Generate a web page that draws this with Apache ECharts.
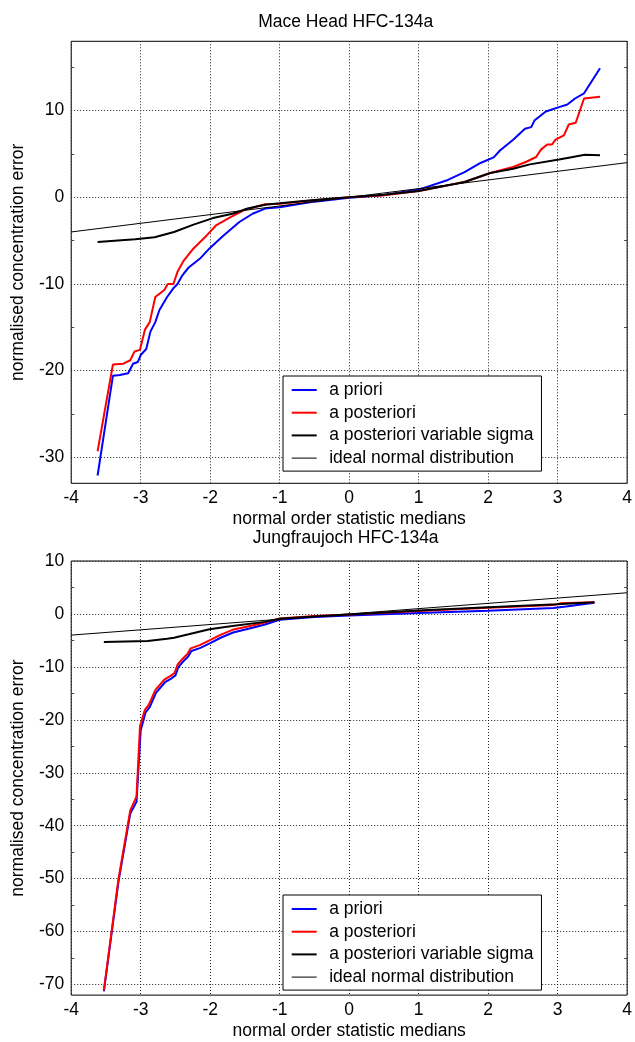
<!DOCTYPE html>
<html><head><meta charset="utf-8">
<script src="https://cdn.jsdelivr.net/npm/echarts@6/dist/echarts.min.js"></script>
<style>html,body{margin:0;padding:0;background:#fff}#c{width:635px;height:1042px}</style>
</head><body><div id="c"></div>
<script>
// ---------- data ----------
const titles = ['Mace Head HFC-134a', 'Jungfraujoch HFC-134a'];
const seriesNames = ['a priori', 'a posteriori', 'a posteriori variable sigma', 'ideal normal distribution'];
const xTicks = [-4, -3, -2, -1, 0, 1, 2, 3, 4];
const maceYTicks = [-30, -20, -10, 0, 10];
const maceYMinor = [-25, -15, -5, 5, 15];
const jfjYTicks = [-70, -60, -50, -40, -30, -20, -10, 0, 10];
const jfjYMinor = [-65, -55, -45, -35, -25, -15, -5, 5];

const maceApriori = [[-3.62,-32.1],[-3.40,-20.6],[-3.30,-20.5],[-3.18,-20.3],[-3.11,-19.2],[-3.04,-19.0],[-3.0,-18.2],[-2.92,-17.5],[-2.86,-15.5],[-2.79,-14.4],[-2.73,-13.0],[-2.62,-11.5],[-2.53,-10.5],[-2.47,-10.0],[-2.40,-9.0],[-2.31,-8.1],[-2.15,-7.1],[-2.01,-5.9],[-1.82,-4.5],[-1.58,-2.85],[-1.39,-1.9],[-1.21,-1.3],[-1.0,-1.15],[-0.5,-0.5],[0,-0.05],[0.48,0.23],[1.0,0.89],[1.42,2.0],[1.66,2.9],[1.89,3.96],[2.08,4.6],[2.17,5.4],[2.36,6.65],[2.53,7.9],[2.62,8.1],[2.67,8.9],[2.83,9.9],[3.02,10.4],[3.14,10.7],[3.25,11.4],[3.38,12.0],[3.61,14.9]];
const maceAposteriori = [[-3.62,-29.3],[-3.40,-19.3],[-3.25,-19.2],[-3.15,-18.8],[-3.09,-17.8],[-3.01,-17.6],[-2.94,-15.3],[-2.87,-14.4],[-2.79,-11.5],[-2.66,-10.7],[-2.61,-10.0],[-2.53,-10.0],[-2.47,-8.6],[-2.38,-7.3],[-2.24,-5.9],[-2.05,-4.4],[-1.91,-3.2],[-1.72,-2.35],[-1.49,-1.4],[-1.21,-0.8],[-1.0,-0.75],[-0.5,-0.35],[0,0],[0.5,0.25],[1.0,0.73],[1.66,1.77],[2.03,2.8],[2.36,3.5],[2.55,4.1],[2.69,4.65],[2.76,5.5],[2.85,6.1],[2.92,6.1],[2.97,6.65],[3.09,7.15],[3.16,8.4],[3.26,8.6],[3.38,11.4],[3.61,11.6]];
const maceVarSigma = [[-3.62,-5.15],[-3.08,-4.85],[-2.80,-4.6],[-2.52,-4.0],[-2.24,-3.15],[-1.96,-2.4],[-1.68,-1.9],[-1.46,-1.3],[-1.21,-0.85],[-1.0,-0.7],[-0.5,-0.3],[0,0],[0.5,0.3],[1.0,0.73],[1.66,1.77],[2.03,2.8],[2.36,3.3],[2.60,3.8],[3.02,4.35],[3.18,4.6],[3.39,4.9],[3.61,4.85]];
const maceIdeal = [[-4,-4],[4,4]];

const jfjApriori = [[-3.53,-71.3],[-3.32,-50.6],[-3.15,-37.7],[-3.06,-35.5],[-3.00,-22.0],[-2.93,-18.6],[-2.87,-17.6],[-2.78,-14.9],[-2.65,-12.9],[-2.56,-12.2],[-2.50,-11.6],[-2.46,-10.1],[-2.39,-9.0],[-2.32,-8.1],[-2.27,-7.0],[-2.14,-6.4],[-2.0,-5.5],[-1.85,-4.5],[-1.67,-3.5],[-1.39,-2.6],[-1.21,-2.0],[-1.0,-1.1],[-0.5,-0.6],[0,-0.3],[1.0,0.18],[2.0,0.6],[2.94,1.1],[3.12,1.4],[3.53,2.1]];
const jfjAposteriori = [[-3.53,-71.1],[-3.32,-50.1],[-3.15,-37.1],[-3.06,-34.5],[-3.01,-21.2],[-2.94,-18.1],[-2.88,-17.1],[-2.79,-14.4],[-2.66,-12.4],[-2.57,-11.7],[-2.51,-11.1],[-2.47,-9.6],[-2.40,-8.5],[-2.33,-7.6],[-2.28,-6.5],[-2.15,-5.9],[-2.01,-5.0],[-1.86,-4.0],[-1.68,-3.0],[-1.39,-2.2],[-1.21,-1.6],[-1.0,-0.85],[-0.5,-0.4],[0,-0.1],[1.0,0.55],[2.0,1.15],[2.94,1.7],[3.04,2.0],[3.53,2.2]];
const jfjVarSigma = [[-3.53,-5.3],[-2.90,-5.1],[-2.62,-4.7],[-2.52,-4.5],[-2.31,-3.85],[-2.01,-2.9],[-1.68,-2.3],[-1.21,-1.5],[-1.0,-0.9],[-0.5,-0.5],[0,-0.1],[1.0,0.65],[2.0,1.25],[2.99,1.85],[3.53,2.2]];
const jfjIdeal = [[-4,-4],[4,4]];

const xRange = [-4, 4];
const maceYRange = [-33, 18];
const jfjYRange = [-72, 10];

// ---------- styling ----------
const FONT = '"Liberation Sans", Arial, sans-serif';
const FS = 17.5;
const colors = ['#0000ff', '#ff0000', '#000000', '#000000'];
const widths = [2, 2, 2, 1];

function xAxisCfg(gridIndex) {
  return {
    type: 'value', gridIndex, min: xRange[0], max: xRange[1], interval: 1,
    name: 'normal order statistic medians', nameLocation: 'middle', nameGap: 24,
    nameTextStyle: {fontFamily: FONT, fontSize: FS, color: '#000', lineHeight: 20},
    axisLine: {show: false},
    axisTick: {show: false, customValues: xTicks},
    axisLabel: {fontFamily: FONT, fontSize: FS, color: '#000', margin: 5, lineHeight: 20, customValues: xTicks},
    splitLine: {show: true, lineStyle: {color: '#222', width: 1, type: [1, 2]}}
  };
}
function yMainCfg(gridIndex, range, ticks) {
  return {
    type: 'value', gridIndex, min: range[0], max: range[1], position: 'left',
    name: 'normalised concentration error', nameLocation: 'middle', nameGap: 34,
    nameTextStyle: {fontFamily: FONT, fontSize: FS, color: '#000', lineHeight: 20},
    axisLine: {show: false},
    axisTick: {show: false, customValues: ticks},
    axisLabel: {fontFamily: FONT, fontSize: FS, color: '#000', margin: 7, customValues: ticks},
    splitLine: {show: true, lineStyle: {color: '#222', width: 1, type: [1, 2]}}
  };
}
function yMinorCfg(gridIndex, range, minor, pos) {
  return {
    type: 'value', gridIndex, min: range[0], max: range[1], position: pos,
    axisLine: {show: false},
    axisTick: {show: true, inside: true, length: 3, customValues: minor, lineStyle: {color: '#444', width: 1}},
    axisLabel: {show: false},
    splitLine: {show: false}
  };
}
function seriesFor(datasets, xIdx, yIdx) {
  return datasets.map((d, i) => ({
    name: seriesNames[i], type: 'line', xAxisIndex: xIdx, yAxisIndex: yIdx,
    data: d, symbol: 'none', showSymbol: false, smooth: false, animation: false,
    color: colors[i], lineStyle: {color: colors[i], width: widths[i]}, z: 2 + i
  }));
}
function legendCfg(top) {
  return {
    orient: 'vertical', left: 283, top: top, itemWidth: 25, itemHeight: 14, itemGap: 2.7,
    padding: [4, 8, 3, 7.7], backgroundColor: '#fff', borderColor: '#000', borderWidth: 1,
    borderRadius: 0, selectedMode: false,
    itemStyle: {opacity: 0, borderWidth: 0},
    textStyle: {fontFamily: FONT, fontSize: FS, color: '#000', lineHeight: 20, padding: [0, 0, 0, 7.5]},
    data: seriesNames.map((n, i) => ({name: n, itemStyle: {opacity: 0, borderWidth: 0},
      lineStyle: {width: widths[i], color: colors[i], opacity: 1}}))
  };
}

const grids = [
  {left: 61.7, top: 41.3, width: 568, height: 442},
  {left: 61.7, top: 561, width: 568, height: 440.3}
];

const option = {
  animation: false,
  backgroundColor: '#fff',
  title: [
    {text: titles[0], left: 345.7, top: 12, textAlign: 'center', padding: 0,
     textStyle: {fontFamily: FONT, fontSize: FS, fontWeight: 'normal', color: '#000', lineHeight: 20}},
    {text: titles[1], left: 345.7, top: 528, textAlign: 'center', padding: 0,
     textStyle: {fontFamily: FONT, fontSize: FS, fontWeight: 'normal', color: '#000', lineHeight: 20}}
  ],
  legend: [legendCfg(376), legendCfg(895)],
  grid: grids.map(g => Object.assign({show: true, borderColor: '#000', borderWidth: 1, backgroundColor: '#fff', containLabel: false}, g)),
  xAxis: [xAxisCfg(0), xAxisCfg(1)],
  yAxis: [
    yMainCfg(0, maceYRange, maceYTicks),
    yMinorCfg(0, maceYRange, maceYMinor, 'left'),
    yMinorCfg(0, maceYRange, maceYMinor, 'right'),
    yMainCfg(1, jfjYRange, jfjYTicks),
    yMinorCfg(1, jfjYRange, jfjYMinor, 'left'),
    yMinorCfg(1, jfjYRange, jfjYMinor, 'right')
  ],
  series: [
    ...seriesFor([maceApriori, maceAposteriori, maceVarSigma, maceIdeal], 0, 0),
    ...seriesFor([jfjApriori, jfjAposteriori, jfjVarSigma, jfjIdeal], 1, 3)
  ]
};

const chart = echarts.init(document.getElementById('c'), null, {renderer: 'canvas'});
chart.setOption(option);
</script>
</body></html>
